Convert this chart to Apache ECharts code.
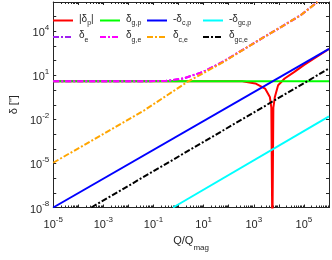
<!DOCTYPE html>
<html><head><meta charset="utf-8">
<script src="https://cdn.jsdelivr.net/npm/echarts@6/dist/echarts.min.js"></script>
<style>html,body{margin:0;padding:0;background:#fff}#c{width:332px;height:260px}</style>
</head><body><div id="c"></div><script>
// ---- data ----
const qRed  = [1e-5, 347, 1150, 2820, 4370, 5010, 5500, 6030, 6920, 9330, 17000, 41700, 102000, 1e6];
const dRed  = [4.0, 3.98, 2.82, 1.26, 0.34, 0.063, 1e-10, 0.063, 0.34, 2.14, 6.17, 17.4, 52.5, 630];
const qGp   = [1e-5, 1e6];
const dGp   = [4.0, 4.0];
const qCp   = [1e-5, 1e6];
const dCp   = [1e-8, 630];
const qGCp  = [0.603, 1e6];
const dGCp  = [1e-8, 0.0162];
const qE    = [1e-5, 0.1, 0.32, 1.57, 9.55, 57.5, 347, 2090, 12600, 75900, 346700];
const dE    = [4.02, 4.07, 4.27, 6.17, 17.4, 83.2, 525, 3310, 20400, 129000, 1.0e6];
const qGe   = [1e-5, 0.1, 0.32, 1.57, 9.55, 57.5, 347, 2090, 12600, 75900, 346700];
const dGe   = [4.02, 4.07, 4.27, 6.17, 17.4, 83.2, 525, 3310, 20400, 129000, 1.0e6];
const qCe   = [1e-5, 0.0427, 2.45, 57.5, 347, 2090, 12600, 75900, 346700];
const dCe   = [1.12e-5, 0.0417, 3.98, 75.9, 513, 3310, 20400, 129000, 1.0e6];
const qGCe  = [3.31e-4, 1e6];
const dGCe  = [1e-8, 29.5];
const xLabelExps = [-5, -3, -1, 1, 3, 5];
const yLabelExps = [-8, -5, -2, 1, 4];

const zip = (a, b) => a.map((v, i) => [v, b[i]]);
const FONT = 'Liberation Sans';
const AX = '#262626';
const dashDot = [6, 2, 2, 2];
const ICON_SOLID = 'path://M0,0h20v2h-20z';
const ICON_DASHDOT = 'path://M0,0h6v2h-6z M8,0h2v2h-2z M12,0h6v2h-6z M20,0h0v2h0z';

const names = ['dp', 'dgp', 'dcp', 'dgcp', 'de', 'dge', 'dce', 'dgce'];
const legendText = {
  dp: '{t||δ}{s|p}{t||}',
  dgp: '{t|δ}{s|g,p}',
  dcp: '{t|-δ}{s|c,p}',
  dgcp: '{t|-δ}{s|gc,p}',
  de: '{t|δ}{s|e}',
  dge: '{t|δ}{s|g,e}',
  dce: '{t|δ}{s|c,e}',
  dgce: '{t|δ}{s|gc,e}'
};
const legendPos = {
  dp: [53, 14], dgp: [100, 14], dcp: [147, 14], dgcp: [203, 14],
  de: [53, 30.5], dge: [100, 30.5], dce: [147, 30.5], dgce: [203, 30.5]
};
const legendColor = {
  dp: '#ff0000', dgp: '#00ff00', dcp: '#0000ff', dgcp: '#00ffff',
  de: '#a020f0', dge: '#ff00ff', dce: '#ffa500', dgce: '#000000'
};
const dashed = { de: true, dge: true, dce: true, dgce: true };

function mkSeries(name, q, d) {
  const color = legendColor[name];
  return {
    name, type: 'line', data: zip(q, d), symbol: 'none', clip: true,
    xAxisIndex: 0, yAxisIndex: 0,
    lineStyle: { color, width: 2, type: dashed[name] ? dashDot : 'solid' },
    itemStyle: { color }, emphasis: { disabled: true }, animation: false
  };
}

const series = [
  mkSeries('dp', qRed, dRed),
  mkSeries('dgp', qGp, dGp),
  mkSeries('dcp', qCp, dCp),
  mkSeries('dgcp', qGCp, dGCp),
  mkSeries('de', qE, dE),
  mkSeries('dge', qGe, dGe),
  mkSeries('dce', qCe, dCe),
  mkSeries('dgce', qGCe, dGCe)
];

const legends = names.map(n => ({
  data: [{ name: n, icon: dashed[n] ? ICON_DASHDOT : ICON_SOLID, itemStyle: { color: legendColor[n] } }],
  left: legendPos[n][0], top: legendPos[n][1], padding: 0,
  itemWidth: 20, itemHeight: 2, itemGap: 0, selectedMode: false,
  formatter: nm => legendText[nm],
  textStyle: {
    fontFamily: FONT, color: AX, padding: [0, 0, 0, 1],
    rich: {
      t: { fontSize: 10, fontFamily: FONT, color: AX, verticalAlign: 'top' },
      s: { fontSize: 7, fontFamily: FONT, color: AX, verticalAlign: 'top', padding: [6, 0, 0, 0] }
    }
  }
}));

const supRich = {
  b: { fontSize: 11, fontFamily: FONT, color: AX, verticalAlign: 'bottom', padding: [4, 0, 0, 0] },
  s: { fontSize: 8, fontFamily: FONT, color: AX, verticalAlign: 'top' }
};
const expOf = v => Math.round(Math.log10(v));
const minorX = { show: true, splitNumber: 9, length: 2, lineStyle: { color: AX, width: 1 } };

const boxAxis = (pos, min, max, minor) => ({
  type: 'log', logBase: 10, min, max, interval: 1, position: pos,
  axisLine: { show: true, lineStyle: { color: AX, width: 1 } },
  axisTick: { show: true, inside: true, length: 3, lineStyle: { color: AX } },
  minorTick: minor ? minorX : { show: false },
  axisLabel: { show: false }, splitLine: { show: false }, minorSplitLine: { show: false }
});

const chart = echarts.init(document.getElementById('c'), null, { renderer: 'canvas' });
chart.setOption({
  animation: false,
  backgroundColor: '#fff',
  grid: { left: 47, right: 3, top: 2, bottom: 52.5, containLabel: false },
  legend: legends,
  xAxis: [{
    type: 'log', logBase: 10, min: 1e-5, max: 1e6, interval: 1,
    axisLine: { show: true, lineStyle: { color: AX, width: 1 } },
    axisTick: { show: true, inside: true, length: 3, lineStyle: { color: AX } },
    minorTick: minorX, minorSplitLine: { show: false },
    splitLine: { show: false },
    axisLabel: {
      margin: 8, showMinLabel: true, showMaxLabel: true,
      formatter: v => { const e = expOf(v); return xLabelExps.includes(e) ? '{b|10}{s|' + e + '}' : ''; },
      rich: supRich
    },
    name: '{n|Q/Q}{u|mag}', nameLocation: 'middle', nameGap: 28,
    nameTextStyle: {
      rich: {
        n: { fontSize: 11, fontFamily: FONT, color: AX, verticalAlign: 'top' },
        u: { fontSize: 8, fontFamily: FONT, color: AX, verticalAlign: 'top', padding: [8, 0, 0, 0] }
      }
    }
  }, boxAxis('top', 1e-5, 1e6, true)],
  yAxis: [{
    type: 'log', logBase: 10, min: 1e-8, max: 1e6, interval: 1,
    axisLine: { show: true, lineStyle: { color: AX, width: 1 } },
    axisTick: { show: true, inside: true, length: 3, lineStyle: { color: AX } },
    splitLine: { show: false },
    axisLabel: {
      margin: 4, showMinLabel: true, showMaxLabel: true,
      formatter: v => { const e = expOf(v); return yLabelExps.includes(e) ? '{b|10}{s|' + e + '}' : ''; },
      rich: supRich
    },
    name: 'δ ["]', nameLocation: 'middle', nameGap: 34, nameRotate: 90,
    nameTextStyle: { fontSize: 11, fontFamily: FONT, color: AX }
  }, boxAxis('right', 1e-8, 1e6, false)],
  series
});
</script></body></html>
